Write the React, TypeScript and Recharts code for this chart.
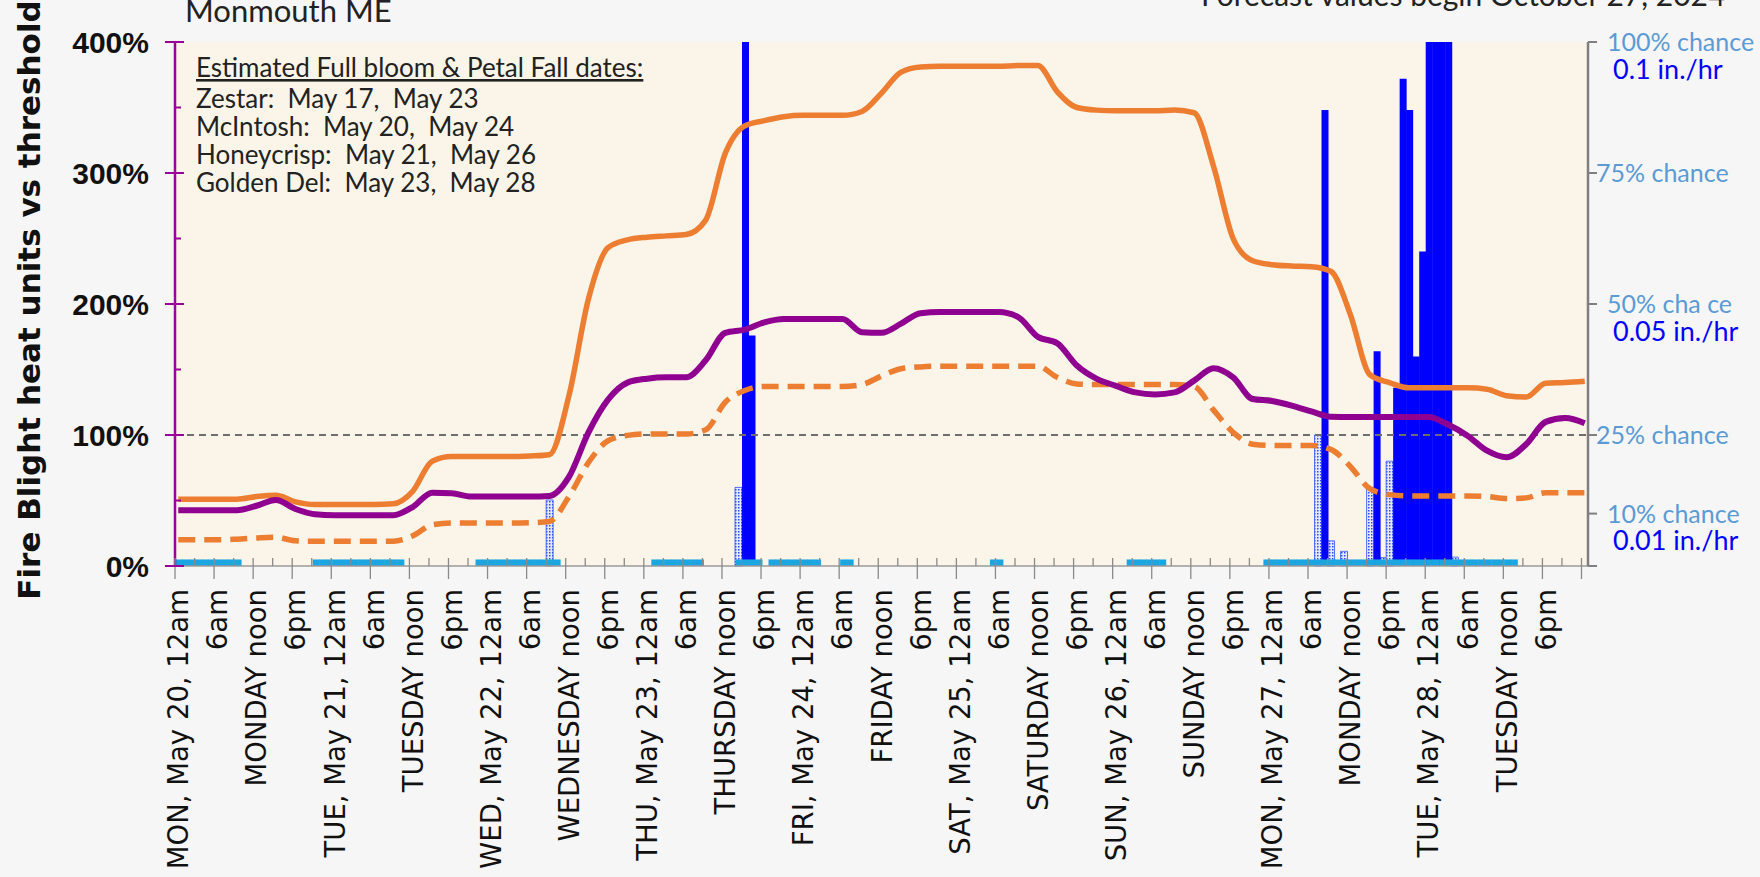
import React from "react";
import {
  ComposedChart,
  Bar,
  Line,
  XAxis,
  YAxis,
  CartesianGrid,
  ReferenceLine,
} from "recharts";

// hours since MON May 20, 12am (one category per hour)
const hours = Array.from({ length: 217 }, (_, i) => i);
const tickHours = hours.filter((h) => h % 3 === 0);

const dayShort = ["MON", "TUE", "WED", "THU", "FRI", "SAT", "SUN", "MON", "TUE"];
const dayLong = ["MONDAY", "TUESDAY", "WEDNESDAY", "THURSDAY", "FRIDAY", "SATURDAY", "SUNDAY", "MONDAY", "TUESDAY"];
const dayDate = [20, 21, 22, 23, 24, 25, 26, 27, 28];

// heat units vs threshold (%), read every 3 hours, hour 0..216
const heatOrange = [
  51, 51, 51, 51, 53, 54, 49, 47, 47, 47, 47, 47.5,
  57, 80, 83.5, 83.5, 83.5, 83.5, 84, 85, 130, 204, 243, 249,
  251, 252, 253, 264, 315, 336, 340, 343, 344, 344, 344, 347,
  361, 377, 381, 381.5, 381.5, 381.5, 381.5, 382, 382, 362, 350, 348,
  347.5, 347.5, 347.5, 348, 346, 305, 250, 233, 230, 229, 228.5, 225,
  192, 146, 140, 136, 136, 136, 136, 135, 130, 129, 139.5, 140, 141,
];
const heatPurple = [
  42.6, 42.6, 42.6, 42.6, 46, 50.4, 43.5, 39.5, 38.8, 38.8, 38.8, 38.8,
  45, 56, 55.5, 53, 53, 53, 53, 53.5, 68, 102, 127, 140,
  143, 144, 144, 157, 178, 180.5, 186, 188.6, 188.6, 188.6, 188.6, 178.5,
  178, 185, 193, 193.8, 193.8, 193.8, 193.8, 190, 175, 170, 153, 143,
  137.5, 132.5, 131, 132.5, 141.5, 151, 144, 127.5, 126, 122.5, 118, 114,
  113.7, 113.7, 113.7, 113.7, 113.7, 108, 99.5, 88, 83, 93, 110, 113, 109,
];
const heatDashed = [
  20, 20, 20, 20.5, 21.4, 22, 19.2, 18.9, 18.9, 18.9, 18.9, 18.9,
  23, 31.5, 32.8, 32.8, 32.8, 32.8, 33, 34, 53, 79, 95.6, 99.7,
  100.8, 100.8, 100.8, 104, 125, 134, 137, 137, 137, 137, 137, 138.5,
  145, 150.6, 152, 152.5, 152.5, 152.5, 152.5, 152.5, 152.5, 144, 139, 138.5,
  138.5, 138.5, 138.5, 138.5, 137, 119, 102, 93, 92, 92, 92, 89,
  76, 59, 54.5, 53.5, 53.5, 53.5, 53.5, 53, 51.5, 52, 56, 56, 56,
];

// rain rate (in./hr) and rain chance (%) per hour
const rainHours = [87, 88, 176, 184, 187, 188, 189, 190, 191, 192, 193, 194, 195];
const rainRate = [0.12, 0.044, 0.087, 0.041, 0.034, 0.093, 0.087, 0.04, 0.06, 0.12, 0.12, 0.12, 0.12];
const chanceHours = [57, 86, 175, 177, 179, 183, 185, 186, 196];
const chanceValues = [12.6, 15, 25, 4.8, 2.8, 15, 1.6, 20, 1.7];

// wetting periods (first hour, last hour)
const wetSpans = [
  [0, 9], [21, 34], [46, 58], [73, 80], [86, 89], [91, 98],
  [102, 103], [125, 126], [146, 151], [167, 205],
];

const pctTicks = [0, 50, 100, 150, 200, 250, 300, 350, 400];
const chanceTicks = [0, 10, 25, 50, 75, 100];
const chanceLabels = ["", "10% chance", "25% chance", "50% cha ce", "75% chance", "100% chance"];
const rateLabels = ["", "0.01 in./hr", "", "0.05 in./hr", "", "0.1 in./hr"];

const bloomTitle = "Estimated Full bloom & Petal Fall dates:";
const bloomLines = [
  "Zestar:  May 17,  May 23",
  "McIntosh:  May 20,  May 24",
  "Honeycrisp:  May 21,  May 26",
  "Golden Del:  May 23,  May 28",
];

const WET_MARK = 5;
const HALF_BAND = 1413 / 217 / 2;

const table = hours.map((h) => {
  const ri = rainHours.indexOf(h);
  const ci = chanceHours.indexOf(h);
  return {
    hour: h,
    orange: h % 3 === 0 ? heatOrange[h / 3] : null,
    purple: h % 3 === 0 ? heatPurple[h / 3] : null,
    dashed: h % 3 === 0 ? heatDashed[h / 3] : null,
    rain: ri >= 0 ? rainRate[ri] : null,
    chance: ci >= 0 ? chanceValues[ci] : null,
    wet: wetSpans.some(([a, b]) => h >= a && h <= b) ? WET_MARK : null,
  };
});

function hourLabel(h: number) {
  if (h >= 216) return null;
  const d = Math.floor(h / 24);
  const r = h % 24;
  if (r === 0) return `${dayShort[d]}, May ${dayDate[d]}, 12am`;
  if (r === 6) return "6am";
  if (r === 12) return `${dayLong[d]} noon`;
  if (r === 18) return "6pm";
  return null;
}

function HourTick(props: any) {
  const { x, y, payload } = props;
  const h = payload.value;
  const lbl = hourLabel(h);
  const mx = x - HALF_BAND;
  const major = h % 6 === 0;
  return (
    <g>
      <line x1={mx} x2={mx} y1={y - 8} y2={major ? y + 13 : y} stroke="#8a8a8a" strokeWidth={1.3} />
      {lbl && (
        <text
          transform={`translate(${x},${y + 23}) rotate(-90)`}
          textAnchor="end"
          dominantBaseline="central"
          fontFamily="DejaVu Sans"
          fontSize={27.5}
          fill="#111"
        >
          {lbl}
        </text>
      )}
    </g>
  );
}

function PctTick(props: any) {
  const { x, y, payload } = props;
  const v = payload.value;
  const major = v % 100 === 0;
  return (
    <g>
      <line x1={major ? x - 10 : x} x2={x + (major ? 9 : 6)} y1={y} y2={y} stroke="#990099" strokeWidth={2} />
      {major && (
        <text
          x={x - 26}
          y={y}
          textAnchor="end"
          dominantBaseline="central"
          fontFamily="Liberation Sans"
          fontWeight="bold"
          fontSize={30}
          fill="#111"
        >
          {v}%
        </text>
      )}
    </g>
  );
}

function ChanceTick(props: any) {
  const { x, y, payload } = props;
  const i = chanceTicks.indexOf(payload.value);
  const two = !!rateLabels[i];
  return (
    <g>
      <line x1={x} x2={x + 9} y1={y} y2={y} stroke="#7f7f7f" strokeWidth={2} />
      {chanceLabels[i] && (
        <text x={x + (two ? 19 : 8)} y={y - 1} dominantBaseline="central" fontFamily="Lato" fontSize={25} fill="#5B9BD5">
          {chanceLabels[i]}
        </text>
      )}
      {two && (
        <text x={x + 25} y={y + 26} dominantBaseline="central" fontFamily="Lato" fontSize={27} fill="#0000FF">
          {rateLabels[i]}
        </text>
      )}
    </g>
  );
}

export default function App() {
  return (
    <div
      style={{
        position: "absolute",
        left: 0,
        top: 0,
        width: 1760,
        height: 877,
        background: "#F6F6F6",
        overflow: "hidden",
      }}
    >
      <ComposedChart
        width={1760}
        height={877}
        data={table}
        margin={{ top: 42, right: 12, bottom: 0, left: 25 }}
        barCategoryGap={0}
        barGap="-100%"
      >
        <defs>
          <pattern id="dots" width="3" height="3" patternUnits="userSpaceOnUse">
            <rect width="3" height="3" fill="#E4E9FF" />
            <rect width="1.5" height="1.5" fill="#2F4BFF" />
          </pattern>
        </defs>
        <CartesianGrid horizontal={false} vertical={false} fill="#FAF5E8" stroke="none" />
        <XAxis
          dataKey="hour"
          ticks={tickHours}
          interval={0}
          height={311}
          tick={<HourTick />}
          tickLine={false}
          tickSize={0}
          tickMargin={0}
          axisLine={{ stroke: "#9a9a9a", strokeWidth: 1.5 }}
        />
        <YAxis
          yAxisId="pct"
          width={150}
          domain={[0, 400]}
          ticks={pctTicks}
          interval={0}
          tick={<PctTick />}
          tickLine={false}
          tickSize={0}
          tickMargin={0}
          axisLine={{ stroke: "#990099", strokeWidth: 2.5 }}
        />
        <YAxis
          yAxisId="chance"
          orientation="right"
          width={160}
          domain={[0, 100]}
          ticks={chanceTicks}
          interval={0}
          tick={<ChanceTick />}
          tickLine={false}
          tickSize={0}
          tickMargin={0}
          axisLine={{ stroke: "#7f7f7f", strokeWidth: 2.5 }}
        />
        <YAxis yAxisId="rain" hide domain={[0, 0.1]} allowDataOverflow />
        <Bar yAxisId="chance" dataKey="chance" fill="url(#dots)" stroke="#3150ff" strokeWidth={0.8} isAnimationActive={false} />
        <Bar yAxisId="rain" dataKey="rain" fill="#0000FF" isAnimationActive={false} />
        <Bar yAxisId="pct" dataKey="wet" fill="#1BA6E1" isAnimationActive={false} />
        <ReferenceLine yAxisId="pct" y={100} stroke="#6e6e6e" strokeDasharray="7 5" strokeWidth={2} />
        <Line
          yAxisId="pct"
          dataKey="dashed"
          type="monotone"
          stroke="#ED7D31"
          strokeWidth={5.5}
          strokeDasharray="17 9"
          dot={false}
          connectNulls
          isAnimationActive={false}
        />
        <Line
          yAxisId="pct"
          dataKey="orange"
          type="monotone"
          stroke="#ED7D31"
          strokeWidth={5.5}
          dot={false}
          connectNulls
          isAnimationActive={false}
        />
        <Line
          yAxisId="pct"
          dataKey="purple"
          type="monotone"
          stroke="#900090"
          strokeWidth={6}
          dot={false}
          connectNulls
          isAnimationActive={false}
        />
      </ComposedChart>
      <svg
        width={1760}
        height={877}
        style={{ position: "absolute", left: 0, top: 0, pointerEvents: "none" }}
      >
        <text x={185} y={22} fontFamily="Lato" fontSize={31} fill="#222">
          Monmouth ME
        </text>
        <text x={1201} y={6} fontFamily="Lato" fontSize={30} fill="#222">
          Forecast values begin October 27, 2024
        </text>
        <text
          transform="translate(29,300) rotate(-90)"
          textAnchor="middle"
          dominantBaseline="central"
          fontFamily="DejaVu Sans"
          fontWeight="bold"
          fontSize={31}
          fill="#111"
        >
          Fire Blight heat units vs threshold
        </text>
        <text x={196} y={77} fontFamily="Lato" fontSize={26} fill="#222" textDecoration="underline">
          {bloomTitle}
        </text>
        {bloomLines.map((t, i) => (
          <text key={t} x={196} y={108 + i * 28} fontFamily="Lato" fontSize={26} fill="#222" style={{ whiteSpace: "pre" }}>
            {t}
          </text>
        ))}
      </svg>
    </div>
  );
}
